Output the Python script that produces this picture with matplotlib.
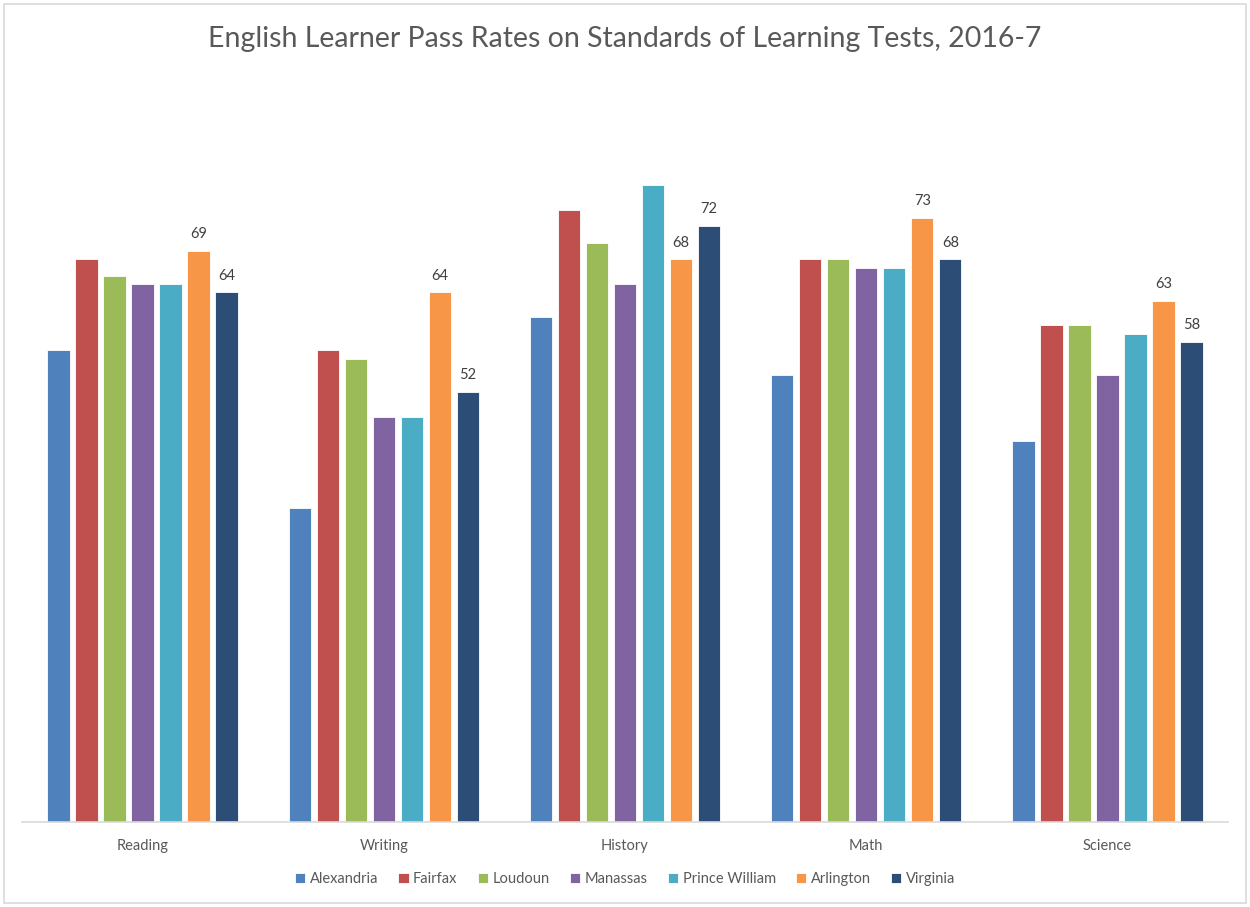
import numpy as np
import matplotlib
matplotlib.use('Agg')
import matplotlib.pyplot as plt
from matplotlib.patches import Rectangle

# categories and series
subjects = ['Reading', 'Writing', 'History', 'Math', 'Science']
divisions = ['Alexandria', 'Fairfax', 'Loudoun', 'Manassas', 'Prince William', 'Arlington', 'Virginia']

alexandria = [57, 38, 61, 54, 46]
fairfax = [68, 57, 74, 68, 60]
loudoun = [66, 56, 70, 68, 60]
manassas = [65, 49, 65, 67, 54]
prince_william = [65, 49, 77, 67, 59]
arlington = [69, 64, 68, 73, 63]
virginia = [64, 52, 72, 68, 58]

colors = ['#4F81BD', '#C0504D', '#9BBB59', '#8064A2', '#4BACC6', '#F79646', '#2C4D75']
labelled = ['Arlington', 'Virginia']

plt.rcParams['font.family'] = ['Lato', 'DejaVu Sans']

fig = plt.figure(figsize=(12.5, 9.07), dpi=100)
ax = fig.add_axes([0.0176, 0.0937, 0.9648, 0.7299])

series = [alexandria, fairfax, loudoun, manassas, prince_william, arlington, virginia]
ind = np.arange(len(subjects))
slot = 0.1162
width = 0.093
handles = []
for i, (name, vals) in enumerate(zip(divisions, series)):
    xs = ind + (i - 3) * slot
    rects = ax.bar(xs, vals, width, color=colors[i], edgecolor='white', linewidth=0.6, label=name)
    handles.append(rects)
    if name in labelled:
        for rect, v in zip(rects, vals):
            ax.annotate('%d' % v, (rect.get_x() + rect.get_width() / 2., v),
                        xytext=(0, 7), textcoords='offset points',
                        ha='center', va='bottom', fontsize=10.5, color='#404040')

ax.set_xlim(-0.5, len(subjects) - 0.5)
ax.set_ylim(0, 80)
ax.set_xticks(ind)
ax.set_xticklabels(subjects, fontsize=10.5, color='#595959')
ax.tick_params(axis='x', length=0, pad=12)
ax.set_yticks([])
for s in ['top', 'right', 'left']:
    ax.spines[s].set_visible(False)
ax.spines['bottom'].set_color('#D9D9D9')
ax.spines['bottom'].set_linewidth(1.2)

fig.text(0.5, 0.957, 'English Learner Pass Rates on Standards of Learning Tests, 2016-7',
         ha='center', va='center', fontsize=20.5, color='#595959')

leg = fig.legend(handles=handles, labels=divisions, loc='center', bbox_to_anchor=(0.5, 0.031),
                 ncol=7, frameon=False, fontsize=10.5, handlelength=0.7, handleheight=0.7,
                 handletextpad=0.3, columnspacing=1.4)
for t in leg.get_texts():
    t.set_color('#595959')

# light chart border
fig.patches.append(Rectangle((0.003, 0.004), 0.994, 0.992, transform=fig.transFigure,
                             fill=False, edgecolor='#D9D9D9', linewidth=1.2))

fig.savefig('out.png', dpi=100)
